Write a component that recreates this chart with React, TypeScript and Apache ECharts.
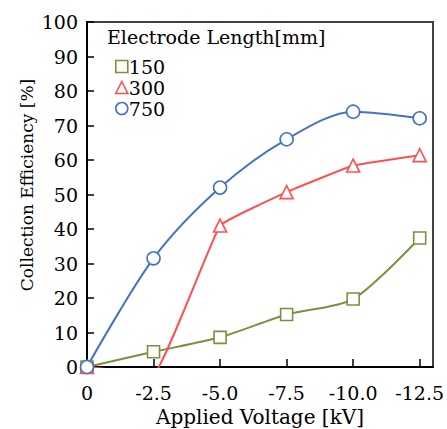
import React, { useEffect, useRef } from "react";
import * as echarts from "echarts";

const voltages = [0, -2.5, -5.0, -7.5, -10.0, -12.5];
const eff150 = [0, 4.4, 8.6, 15.2, 19.7, 37.4];
const eff300 = [0, -2, 41.0, 50.7, 58.4, 61.4];
const eff750 = [0, 31.5, 52.0, 66.0, 74.0, 72.1];
const seriesNames = ["150", "300", "750"];
const yTicks = { min: 0, max: 100, interval: 10 };

const FONT = "DejaVu Serif";

export default function App() {
  const ref = useRef<HTMLDivElement>(null);
  useEffect(() => {
    if (!ref.current) return;
    const chart = echarts.init(ref.current, undefined, { renderer: "svg" });
    const colors = ["#77933C", "#FF5050", "#4472C4"];
    const symbols = ["rect", "triangle", "circle"];
    const sizes = [12, 13, 13];
    const smooths = [0.25, 0.08, 0.3];
    const values = [eff150, eff300, eff750];
    chart.setOption({
      animation: false,
      backgroundColor: "#fff",
      textStyle: { fontFamily: FONT },
      title: {
        text: "Electrode Length[mm]",
        left: 102,
        top: 22,
        textStyle: { fontFamily: FONT, fontWeight: "normal", fontSize: 19, color: "#000" },
      },
      legend: {
        orient: "vertical",
        left: 110,
        top: 51,
        itemGap: 0,
        itemWidth: 12,
        itemHeight: 12,
        textStyle: { fontFamily: FONT, fontSize: 19, color: "#000", padding: [0, 0, 0, -4], lineHeight: 21 },
        data: seriesNames.map((n, i) => ({
          name: n,
          icon: symbols[i],
          itemStyle: { color: "#fff", borderColor: colors[i], borderWidth: 1.6 },
        })),
      },
      graphic: [
        {
          type: "text",
          x: 27,
          y: 185,
          rotation: Math.PI / 2,
          style: {
            text: "Collection Efficiency [%]",
            fontFamily: FONT,
            fontSize: 17,
            fill: "#000",
            align: "center",
            verticalAlign: "middle",
          },
        },
      ],
      grid: {
        left: 87,
        right: 14,
        top: 22,
        bottom: 62,
        outerBoundsMode: "none",
        containLabel: false,
        show: true,
        borderColor: "#404040",
        borderWidth: 2,
      },
      xAxis: {
        type: "value",
        min: 0,
        max: 13,
        interval: 2.5,
        name: "Applied Voltage [kV]",
        nameLocation: "middle",
        nameGap: 40,
        nameTextStyle: { fontFamily: FONT, fontSize: 20, color: "#000" },
        axisLine: { lineStyle: { color: "#000", width: 2 } },
        axisTick: { inside: true, length: 8, lineStyle: { color: "#000", width: 1.5 } },
        axisLabel: {
          fontFamily: FONT,
          fontSize: 19,
          color: "#000",
          margin: 16,
          showMaxLabel: false,
          formatter: (v: number) => (v === 0 ? "0" : "-" + v.toFixed(1)),
        },
        splitLine: { show: false },
      },
      yAxis: {
        type: "value",
        min: yTicks.min,
        max: yTicks.max,
        interval: yTicks.interval,
        axisLine: { show: true, lineStyle: { color: "#000", width: 2 } },
        axisTick: { show: true, inside: true, length: 7, lineStyle: { color: "#000", width: 1.5 } },
        axisLabel: { fontFamily: FONT, fontSize: 19, color: "#000", margin: 9 },
        splitLine: { show: false },
      },
      series: seriesNames.map((n, i) => ({
        name: n,
        type: "line",
        smooth: smooths[i],
        clip: true,
        symbol: symbols[i],
        symbolSize: sizes[i],
        lineStyle: { color: colors[i], width: 2 },
        itemStyle: { color: "#fff", borderColor: colors[i], borderWidth: 1.6 },
        data: voltages.map((v, k) => [-v, values[i][k]]),
      })),
    });
    return () => chart.dispose();
  }, []);
  return (
    <div
      ref={ref}
      style={{ position: "fixed", left: 0, top: 0, width: 447, height: 429 }}
    />
  );
}
